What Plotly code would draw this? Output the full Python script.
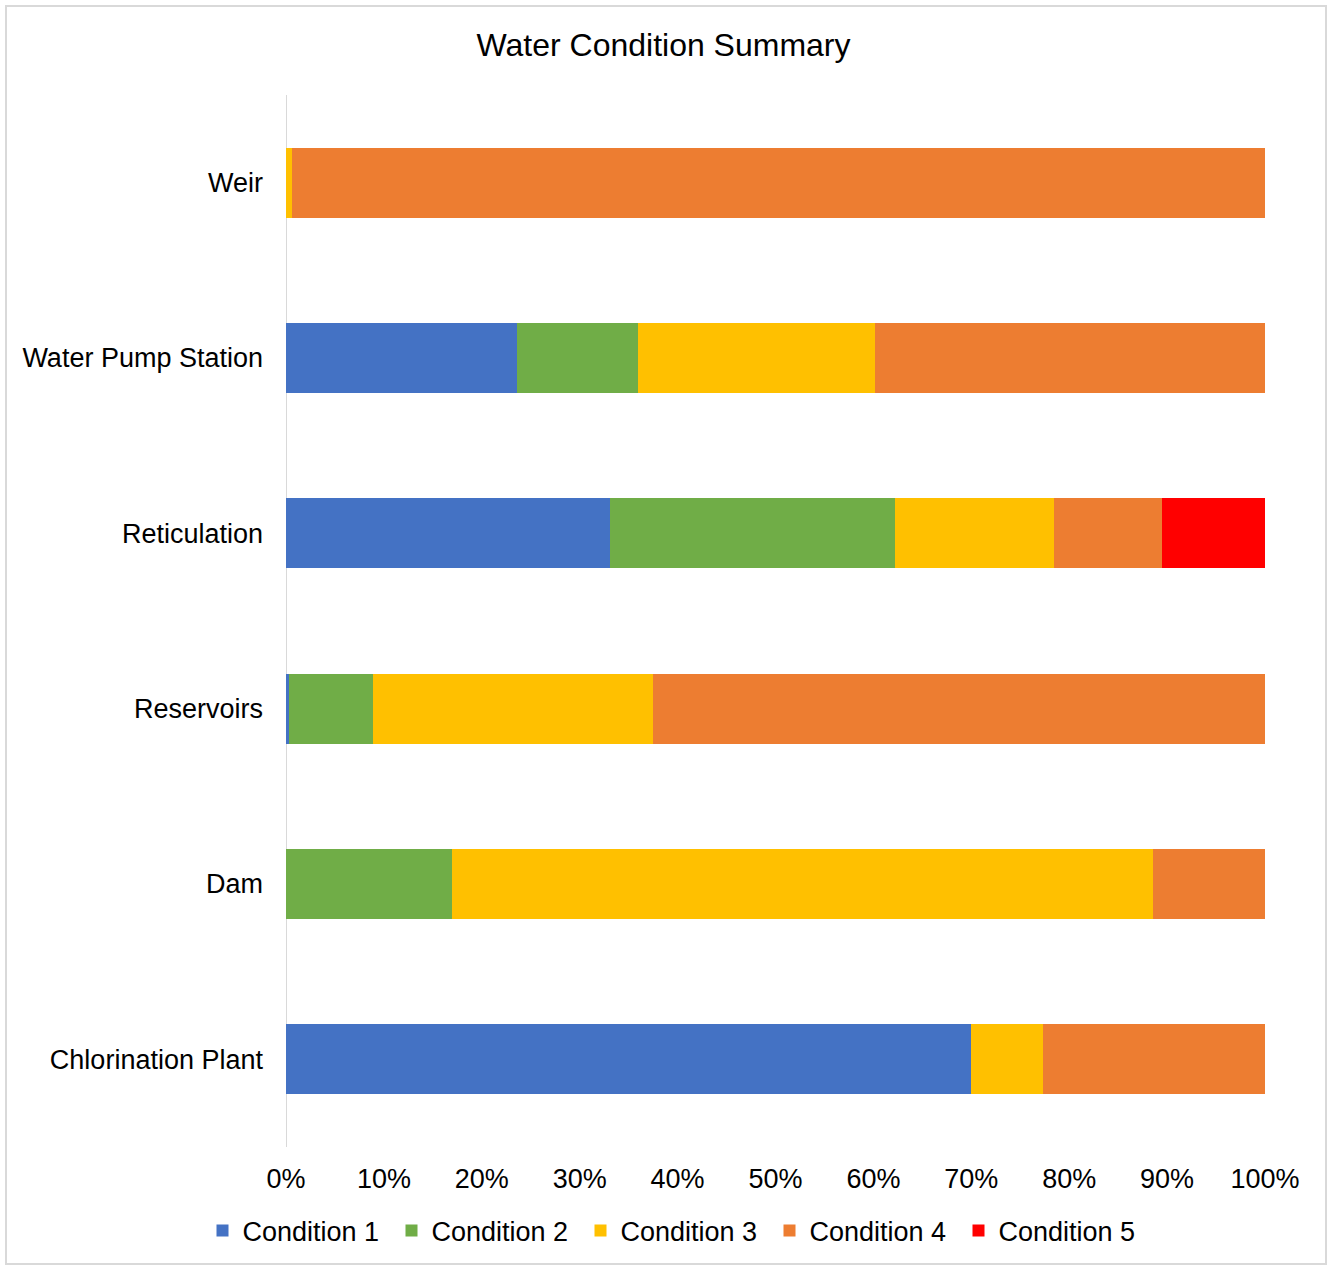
import plotly.graph_objects as go

categories = ["Chlorination Plant", "Dam", "Reservoirs", "Reticulation", "Water Pump Station", "Weir"]
series_names = ["Condition 1", "Condition 2", "Condition 3", "Condition 4", "Condition 5"]
cond1 = [70.0, 0.0, 0.3, 33.1, 23.6, 0.0]
cond2 = [0.0, 17.0, 8.6, 29.1, 12.4, 0.0]
cond3 = [7.3, 71.6, 28.6, 16.2, 24.2, 0.6]
cond4 = [22.7, 11.4, 62.5, 11.1, 39.8, 99.4]
cond5 = [0.0, 0.0, 0.0, 10.5, 0.0, 0.0]
colors = ["#4472C4", "#70AD47", "#FFC000", "#ED7D31", "#FF0000"]
x_ticks = [0, 10, 20, 30, 40, 50, 60, 70, 80, 90, 100]
x_tick_labels = ["0%", "10%", "20%", "30%", "40%", "50%", "60%", "70%", "80%", "90%", "100%"]

fig = go.Figure()
for name, vals, col in zip(series_names, [cond1, cond2, cond3, cond4, cond5], colors):
    fig.add_trace(go.Bar(
        y=categories, x=vals, name=name, orientation="h",
        marker=dict(color=col, line=dict(width=0)),
    ))

L, R, T, B = 286, 62, 95, 118
W, H = 1327, 1265
pw = W - L - R
ph = H - T - B

fig.update_layout(
    width=W, height=H,
    barmode="stack", barnorm="percent", bargap=0.6,
    margin=dict(l=L, r=R, t=T, b=B, autoexpand=False),
    paper_bgcolor="white", plot_bgcolor="white",
    font=dict(family="Liberation Sans, Arial, sans-serif", size=27, color="#000000"),
    title=dict(text="Water Condition Summary", x=0.5, xref="container",
               y=1 - 45 / H, yanchor="middle", yref="container",
               font=dict(size=32, color="#000000")),
    xaxis=dict(range=[0, 100], tickvals=x_ticks, ticktext=x_tick_labels,
               showgrid=False, zeroline=False, showline=False,
               ticks="", ticklabelstandoff=13, fixedrange=True),
    yaxis=dict(showgrid=False, zeroline=False, showline=False, ticks="",
               ticklabelstandoff=22, categoryorder="array", categoryarray=categories),
    legend=dict(orientation="h", x=(675 - L) / pw, xanchor="center",
                y=-(1231 - (H - B)) / ph, yanchor="middle",
                font=dict(size=27), traceorder="normal", itemwidth=30,
                entrywidth=144, entrywidthmode="pixels",
                tracegroupgap=0),
    showlegend=True,
)

# vertical axis line at 0
fig.add_shape(type="line", xref="x", yref="paper", x0=0, x1=0, y0=-0.0, y1=1.0,
              line=dict(color="#D9D9D9", width=2), layer="below")
# chart outer border
fig.add_shape(type="rect", xref="paper", yref="paper",
              x0=(6 - L) / pw, x1=(1326 - L) / pw,
              y0=(H - B - 1264) / ph, y1=(H - B - 6) / ph,
              line=dict(color="#D9D9D9", width=2), fillcolor="rgba(0,0,0,0)")

fig.write_html("out.html")
